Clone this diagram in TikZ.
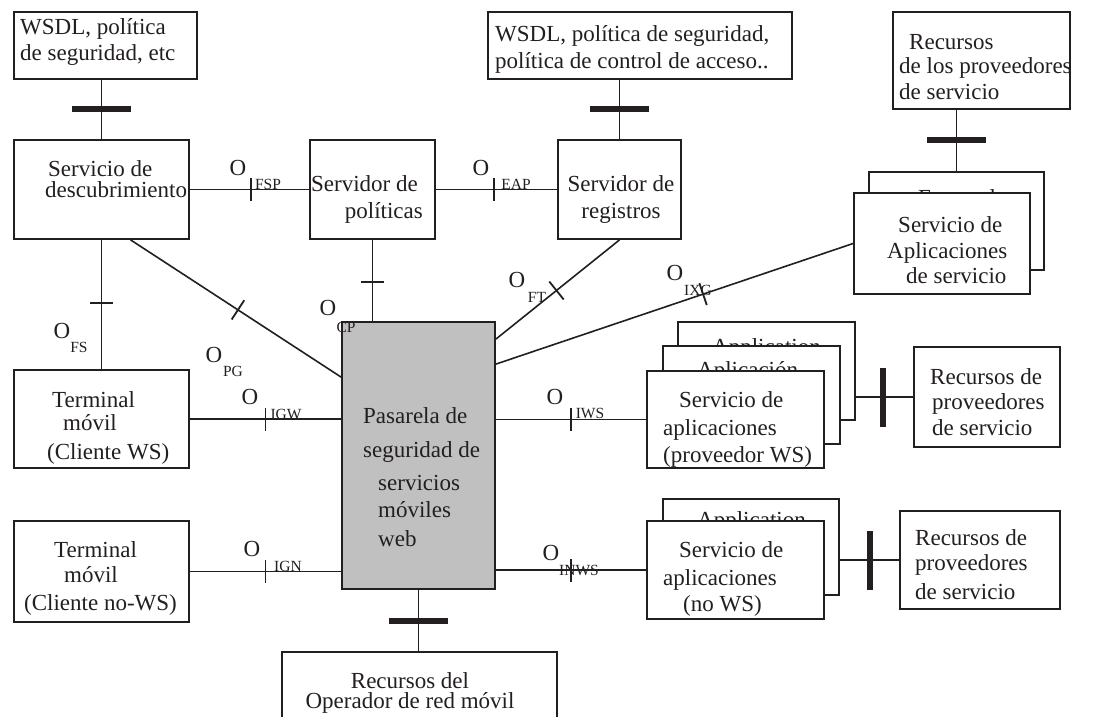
\documentclass[tikz,border=0pt]{standalone}
\usepackage{fontspec}
\setmainfont{Liberation Serif}
\usetikzlibrary{calc}
\definecolor{ink}{RGB}{35,31,32}
\definecolor{gwfill}{RGB}{192,192,192}
\begin{document}
\lineskiplimit=-100pt\lineskip=0pt
% multi-line text nodes are placed by the baseline of their last line
\begin{tikzpicture}[x=1pt,y=-1pt,
  box/.style={draw=ink, line width=1.8pt, fill=white, inner sep=0pt, rectangle},
  txt/.style={inner sep=0pt, text=ink, font=\fontsize{23}{#1}\selectfont, align=left, anchor=base west},
  ctxt/.style={inner sep=0pt, text=ink, font=\fontsize{23}{#1}\selectfont, align=center, anchor=base},
  lab/.style={inner sep=0pt, text=ink, font=\fontsize{23}{25}\selectfont},
  sub/.style={inner sep=0pt, text=ink, font=\fontsize{15.5}{17}\selectfont},
  conn/.style={draw=ink, line width=1.6pt},
  tick/.style={sloped, fill=ink, inner sep=0pt, minimum width=1.8pt, minimum height=23pt},
  bar/.style={sloped, fill=ink, inner sep=0pt, minimum width=6pt, minimum height=59pt}]
\useasboundingbox (0,0) rectangle (1097,717);
\clip (0,0) rectangle (1097,717);
\fill[white] (0,0) rectangle (1097,717);

% --- top row: descriptions and resources
\node[box, minimum width=183pt, minimum height=67pt] (wsdlA) at (105.5,45.5) {};
\node[txt=26] (wsdlAT) at (20,60) {WSDL, política\\de seguridad, etc};
\node[box, minimum width=304pt, minimum height=67pt] (wsdlB) at (640,45.5) {};
\node[txt=26] (wsdlBT) at (495,68) {WSDL, política de seguridad,\\política de control de acceso..};
\node[box, minimum width=177pt, minimum height=97pt] (recA) at (981.5,60.5) {};
\node[txt=24] (recAT) at (899,99) {\hspace*{10pt}Recursos\\de los proveedores\\[1pt]de servicio};

% --- second row: servers
\node[box, minimum width=175pt, minimum height=99pt] (desc) at (101.5,189.5) {};
\node[txt=21] (descT) at (45,197) {\hspace*{3pt}Servicio de\\descubrimiento};
\node[box, minimum width=125pt, minimum height=99pt] (pol) at (372.5,189.5) {};
\node[inner sep=0pt, text=ink, font=\fontsize{23}{27}\selectfont, align=right, anchor=base east] (polT) at (423,218) {Servidor de\hspace*{5pt}\\políticas};
\node[box, minimum width=123pt, minimum height=99pt] (reg) at (619.5,189.5) {};
\node[ctxt=27] (regT) at (621,218) {Servidor de\\registros};

% --- application service stack (top right)
\node[box, minimum width=175pt, minimum height=98pt] (extA) at (956.5,221) {};
\node[inner sep=0pt, text=ink, font=\fontsize{23}{25}\selectfont, anchor=base] (extAT) at (957,205) {External};
\node[box, minimum width=176pt, minimum height=101pt] (appA) at (942,243.5) {};
\node[txt=26] (appAT) at (887,283) {\hspace*{11pt}Servicio de\\Aplicaciones\\[-1pt]\hspace*{19pt}de servicio};

% --- gateway
\node[box, fill=gwfill, minimum width=153pt, minimum height=267pt] (gw) at (418.5,455.5) {};
\node[txt=25] (gwT) at (363,546) {Pasarela de\\[9pt]seguridad de\\[8pt]\hspace*{15pt}servicios\\[2pt]\hspace*{15pt}móviles\\[4pt]\hspace*{15pt}web};

% --- terminals
\node[box, minimum width=175pt, minimum height=98pt] (tws) at (101.5,419) {};
\node[txt=23] (twsT) at (47,459) {\hspace*{5pt}Terminal\\\hspace*{16pt}móvil\\[6pt](Cliente WS)};
\node[box, minimum width=175pt, minimum height=101pt] (tnws) at (101.5,571.5) {};
\node[txt=25] (tnwsT) at (24,610) {\hspace*{30pt}Terminal\\\hspace*{40pt}móvil\\[3pt](Cliente no-WS)};

% --- operator resources
\node[box, minimum width=275pt, minimum height=88pt] (recOp) at (419.5,696) {};
\node[ctxt=20] (recOpT) at (410,708) {Recursos del\\Operador de red móvil};

% --- WS application stack
\node[box, minimum width=177pt, minimum height=98pt] (appB3) at (766.5,371) {};
\node[inner sep=0pt, text=ink, font=\fontsize{23}{25}\selectfont, anchor=base west] (appB3T) at (712,354) {Application};
\node[box, minimum width=177pt, minimum height=98pt] (appB2) at (751.5,395) {};
\node[inner sep=0pt, text=ink, font=\fontsize{23}{25}\selectfont, anchor=base west] (appB2T) at (697,377) {Aplicación};
\node[box, minimum width=177pt, minimum height=97pt] (appB1) at (735.5,419.5) {};
\node[txt=28] (appB1T) at (663,462) {\hspace*{16pt}Servicio de\\aplicaciones\\[-1pt](proveedor WS)};

% --- non-WS application stack
\node[box, minimum width=176pt, minimum height=96pt] (appC2) at (751,547) {};
\node[inner sep=0pt, text=ink, font=\fontsize{23}{25}\selectfont, anchor=base west] (appC2T) at (697,527) {Application};
\node[box, minimum width=177pt, minimum height=98pt] (appC1) at (735.5,570) {};
\node[txt=28] (appC1T) at (663,611) {\hspace*{16pt}Servicio de\\aplicaciones\\[-2pt]\hspace*{20pt}(no WS)};

% --- provider resources
\node[box, minimum width=146pt, minimum height=100pt] (recB) at (987,397) {};
\node[txt=25] (recBT) at (930,435) {Recursos de\\\hspace*{2pt}proveedores\\[1pt]\hspace*{2pt}de servicio};
\node[box, minimum width=160pt, minimum height=98pt] (recC) at (980,560) {};
\node[txt=25] (recCT) at (915,599) {Recursos de\\proveedores\\[4pt]de servicio};

% --- connectors
\draw[conn] (desc.north |- wsdlA.south) -- node[bar,pos=.49] (b1) {} (desc.north);
\draw[conn] (desc.east) -- node[tick,pos=.51] (k1) {} (pol.west);
\draw[conn] (pol.east) -- node[tick,pos=.48] (k2) {} (reg.west);
\draw[conn] (reg.north |- wsdlB.south) -- node[bar,pos=.49] (b2) {} (reg.north);
\draw[conn] (extA.north |- recA.south) -- node[bar,pos=.49] (b3) {} (extA.north);
\draw[conn] (desc.300) -- node[tick,pos=.51] (k3) {} ($(gw.north west)+(0,56)$);
\draw[conn] (desc.south) -- node[tick,pos=.49] (k4) {} (tws.north);
\draw[conn] (pol.south) -- node[tick,pos=.52] (k5) {} (pol.south |- gw.north);
\draw[conn] (reg.south) -- node[tick,pos=.51] (k6) {} ($(gw.north east)+(0,18)$);
\draw[conn] ($(gw.north east)+(0,43)$) -- node[tick,pos=.58] (k7) {} (appA.west);
\draw[conn] (tws.east) -- node[tick,pos=.5] (k8) {} (tws.east -| gw.west);
\draw[conn] (tnws.east) -- node[tick,pos=.5] (k9) {} (tnws.east -| gw.west);
\draw[conn] (appB1.west -| gw.east) -- node[tick,pos=.5] (k10) {} (appB1.west);
\draw[conn] (appC1.west -| gw.east) -- node[tick,pos=.5] (k11) {} (appC1.west);
\draw[conn] (recB.west -| appB3.east) -- node[bar,pos=.47] (b4) {} (recB.west);
\draw[conn] (recC.west -| appC2.east) -- node[bar,pos=.51] (b5) {} (recC.west);
\draw[conn] (gw.south) -- node[bar,pos=.51] (b6) {} (gw.south |- recOp.north);

% --- interface labels
\node[lab] (oFSP) at (238,168) {O};  \node[sub] (sFSP) at (268,184) {FSP};
\node[lab] (oEAP) at (481,168) {O};  \node[sub] (sEAP) at (516,184) {EAP};
\node[lab] (oCP) at (328,308) {O};   \node[sub] (sCP) at (346,327) {CP};
\node[lab] (oFT) at (517,280) {O};   \node[sub] (sFT) at (537,297) {FT};
\node[lab] (oIXG) at (675,273) {O};  \node[sub] (sIXG) at (698,290) {IXG};
\node[lab] (oPG) at (214,355) {O};   \node[sub] (sPG) at (233,371) {PG};
\node[lab] (oFS) at (62,331) {O};    \node[sub] (sFS) at (79,347) {FS};
\node[lab] (oIGW) at (250,397) {O};  \node[sub] (sIGW) at (286,414) {IGW};
\node[lab] (oIGN) at (252,549) {O};  \node[sub] (sIGN) at (288,566) {IGN};
\node[lab] (oIWS) at (555,397) {O};  \node[sub] (sIWS) at (590,413) {IWS};
\node[lab] (oINWS) at (551,553) {O}; \node[sub] (sINWS) at (579,570) {INWS};
\end{tikzpicture}
\end{document}
